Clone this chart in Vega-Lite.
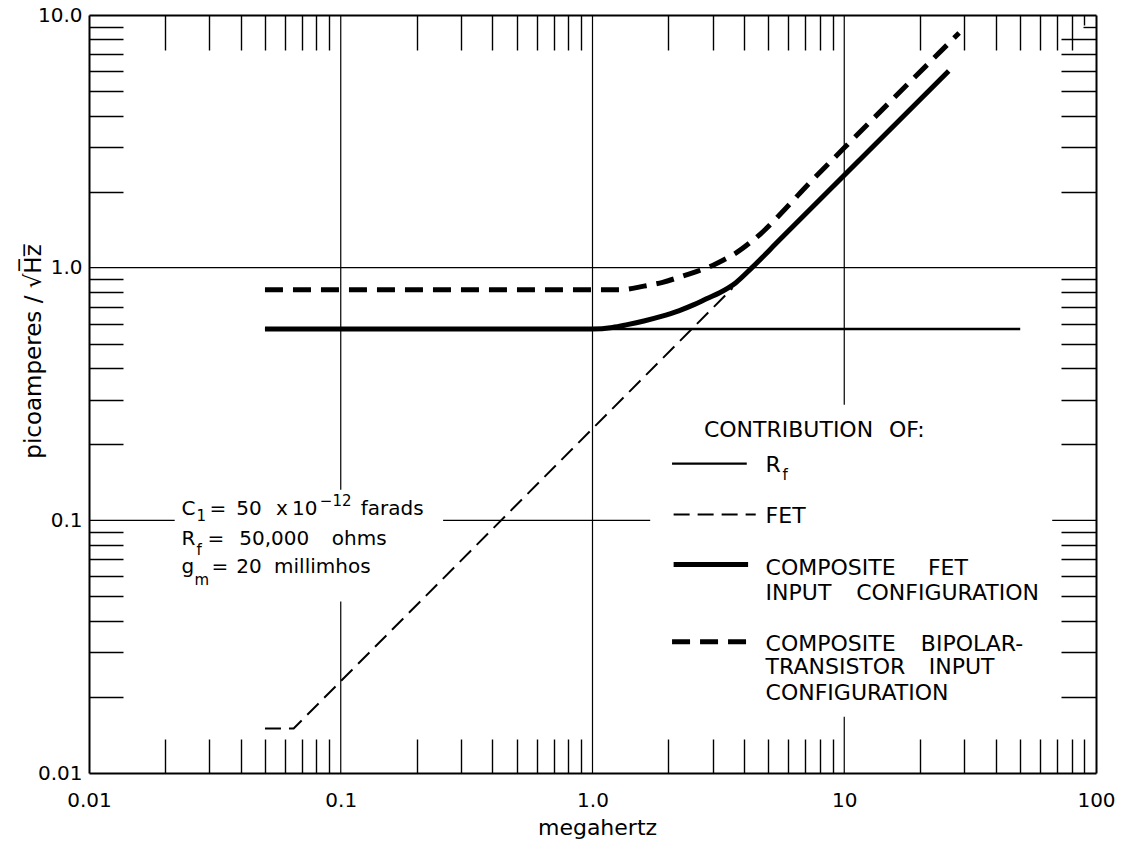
{
  "$schema": "https://vega.github.io/schema/vega-lite/v6.json",
  "width": 1007,
  "height": 758,
  "autosize": {"type": "none"},
  "padding": {"left": 89, "top": 15, "right": 36, "bottom": 68},
  "background": "white",
  "config": {
    "view": {"stroke": null},
    "font": "DejaVu Sans",
    "axis": {
      "grid": false,
      "labelColor": "black",
      "titleColor": "black",
      "domainColor": "black",
      "tickColor": "black",
      "labelFont": "DejaVu Sans",
      "titleFont": "DejaVu Sans",
      "titleFontWeight": "normal",
      "labelFlush": false,
      "labelOverlap": false,
      "labelBound": false
    }
  },
  "datasets": {
    "grid": [
      {"x1": 0.1, "x2": 0.1, "y1": 10, "y2": 0.132},
      {"x1": 0.1, "x2": 0.1, "y1": 0.0477, "y2": 0.01},
      {"x1": 1, "x2": 1, "y1": 10, "y2": 0.01},
      {"x1": 10, "x2": 10, "y1": 10, "y2": 0.287},
      {"x1": 10, "x2": 10, "y1": 0.0167, "y2": 0.01},
      {"x1": 0.01, "x2": 100, "y1": 1, "y2": 1},
      {"x1": 0.01, "x2": 0.0219, "y1": 0.1, "y2": 0.1},
      {"x1": 0.255, "x2": 1.695, "y1": 0.1, "y2": 0.1},
      {"x1": 67, "x2": 100, "y1": 0.1, "y2": 0.1}
    ],
    "curves": [
      {"series": "Rf", "part": "curve", "f": 0.05, "v": 0.572},
      {"series": "Rf", "part": "curve", "f": 50, "v": 0.572},
      {"series": "FET", "part": "curve", "f": 0.05, "v": 0.015},
      {"series": "FET", "part": "curve", "f": 0.065, "v": 0.015},
      {"series": "FET", "part": "curve", "f": 3.6, "v": 0.83},
      {"series": "CF", "part": "curve", "f": 0.05, "v": 0.572},
      {"series": "CF", "part": "curve", "f": 1.0, "v": 0.572},
      {"series": "CF", "part": "curve", "f": 1.2, "v": 0.58},
      {"series": "CF", "part": "curve", "f": 1.375, "v": 0.595},
      {"series": "CF", "part": "curve", "f": 1.6, "v": 0.615},
      {"series": "CF", "part": "curve", "f": 1.86, "v": 0.64},
      {"series": "CF", "part": "curve", "f": 2.2, "v": 0.675},
      {"series": "CF", "part": "curve", "f": 2.53, "v": 0.714},
      {"series": "CF", "part": "curve", "f": 2.85, "v": 0.755},
      {"series": "CF", "part": "curve", "f": 3.2, "v": 0.796},
      {"series": "CF", "part": "curve", "f": 3.7, "v": 0.87},
      {"series": "CF", "part": "curve", "f": 4.3, "v": 1.0},
      {"series": "CF", "part": "curve", "f": 5.5, "v": 1.28},
      {"series": "CF", "part": "curve", "f": 26, "v": 6.0},
      {"series": "CB", "part": "curve", "f": 0.05, "v": 0.818},
      {"series": "CB", "part": "curve", "f": 1.3, "v": 0.818},
      {"series": "CB", "part": "curve", "f": 1.6, "v": 0.845},
      {"series": "CB", "part": "curve", "f": 1.9, "v": 0.875},
      {"series": "CB", "part": "curve", "f": 2.2, "v": 0.915},
      {"series": "CB", "part": "curve", "f": 2.55, "v": 0.96},
      {"series": "CB", "part": "curve", "f": 2.93, "v": 1.01},
      {"series": "CB", "part": "curve", "f": 3.3, "v": 1.07},
      {"series": "CB", "part": "curve", "f": 3.65, "v": 1.13},
      {"series": "CB", "part": "curve", "f": 4.2, "v": 1.25},
      {"series": "CB", "part": "curve", "f": 4.8, "v": 1.4},
      {"series": "CB", "part": "curve", "f": 5.8, "v": 1.7},
      {"series": "CB", "part": "curve", "f": 7.3, "v": 2.17},
      {"series": "CB", "part": "curve", "f": 10, "v": 2.98},
      {"series": "CB", "part": "curve", "f": 28.6, "v": 8.49},
      {"series": "Rf", "part": "key", "f": 2.07, "v": 0.1676},
      {"series": "Rf", "part": "key", "f": 4.1, "v": 0.1676},
      {"series": "FET", "part": "key", "f": 2.1, "v": 0.1054},
      {"series": "FET", "part": "key", "f": 4.45, "v": 0.1054},
      {"series": "CF", "part": "key", "f": 2.1, "v": 0.0668},
      {"series": "CF", "part": "key", "f": 4.15, "v": 0.0668},
      {"series": "CB", "part": "key", "f": 2.07, "v": 0.0331},
      {"series": "CB", "part": "key", "f": 4.2, "v": 0.0331}
    ],
    "notes": [
      {"kind": "block", "x": 0.02331, "y": 0.1054, "text": "C"},
      {"kind": "block", "x": 0.03008, "y": 0.1054, "text": "="},
      {"kind": "block", "x": 0.03846, "y": 0.1054, "text": "50"},
      {"kind": "block", "x": 0.05535, "y": 0.1054, "text": "x"},
      {"kind": "block", "x": 0.064, "y": 0.1054, "text": "10"},
      {"kind": "block", "x": 0.12, "y": 0.1054, "text": "farads"},
      {"kind": "block", "x": 0.02331, "y": 0.0801, "text": "R"},
      {"kind": "block", "x": 0.02954, "y": 0.0801, "text": "="},
      {"kind": "block", "x": 0.03953, "y": 0.0801, "text": "50,000"},
      {"kind": "block", "x": 0.0921, "y": 0.0801, "text": "ohms"},
      {"kind": "block", "x": 0.02331, "y": 0.0621, "text": "g"},
      {"kind": "block", "x": 0.03063, "y": 0.0621, "text": "="},
      {"kind": "block", "x": 0.03846, "y": 0.0621, "text": "20"},
      {"kind": "block", "x": 0.05434, "y": 0.0621, "text": "millimhos"},
      {"kind": "small", "x": 0.02673, "y": 0.0997, "text": "1"},
      {"kind": "small", "x": 0.0826, "y": 0.1143, "text": "−12"},
      {"kind": "small", "x": 0.02673, "y": 0.0731, "text": "f"},
      {"kind": "small", "x": 0.02624, "y": 0.0556, "text": "m"},
      {"kind": "small", "x": 5.69, "y": 0.145, "text": "f"},
      {"kind": "key", "x": 2.77, "y": 0.2144, "text": "CONTRIBUTION"},
      {"kind": "key", "x": 15.06, "y": 0.2144, "text": "OF:"},
      {"kind": "key", "x": 4.87, "y": 0.156, "text": "R"},
      {"kind": "key", "x": 4.87, "y": 0.098, "text": "FET"},
      {"kind": "key", "x": 4.87, "y": 0.061, "text": "COMPOSITE"},
      {"kind": "key", "x": 21.5, "y": 0.061, "text": "FET"},
      {"kind": "key", "x": 4.87, "y": 0.0486, "text": "INPUT"},
      {"kind": "key", "x": 11.15, "y": 0.0486, "text": "CONFIGURATION"},
      {"kind": "key", "x": 4.87, "y": 0.0305, "text": "COMPOSITE"},
      {"kind": "key", "x": 20.15, "y": 0.0305, "text": "BIPOLAR-"},
      {"kind": "key", "x": 4.87, "y": 0.0247, "text": "TRANSISTOR"},
      {"kind": "key", "x": 21.67, "y": 0.0247, "text": "INPUT"},
      {"kind": "key", "x": 4.87, "y": 0.0195, "text": "CONFIGURATION"}
    ]
  },
  "resolve": {
    "scale": {"x": "shared", "y": "shared"},
    "axis": {"x": "independent", "y": "independent"}
  },
  "layer": [
    {
      "data": {"name": "grid"},
      "mark": {"type": "rule", "stroke": "black", "strokeWidth": 1.2},
      "encoding": {
        "x": {
          "field": "x1", "type": "quantitative",
          "scale": {"type": "log", "domain": [0.01, 100], "nice": false},
          "axis": {
            "orient": "bottom",
            "values": [0.01, 0.1, 1, 10, 100],
            "labelExpr": "datum.value < 0.05 ? '0.01' : datum.value < 0.5 ? '0.1' : datum.value < 5 ? '1.0' : datum.value < 50 ? '10' : '100'",
            "ticks": false,
            "domain": true,
            "domainWidth": 2,
            "labelFontSize": 20,
            "labelBaseline": "alphabetic",
            "labelPadding": 33,
            "title": "megahertz",
            "titleFontSize": 22,
            "titleBaseline": "alphabetic",
            "titleX": 508,
            "titleY": 61
          }
        },
        "x2": {"field": "x2"},
        "y": {
          "field": "y1", "type": "quantitative",
          "scale": {"type": "log", "domain": [0.01, 10], "nice": false},
          "axis": {
            "orient": "left",
            "values": [0.01, 0.1, 1, 10],
            "labelExpr": "datum.value < 0.05 ? '0.01' : datum.value < 0.5 ? '0.1' : datum.value < 5 ? '1.0' : '10.0'",
            "ticks": false,
            "domain": true,
            "domainWidth": 2,
            "labelFontSize": 20,
            "labelPadding": 7,
            "title": "picoamperes / √H̅z̅",
            "titleFontSize": 23,
            "titleAngle": 270,
            "titleBaseline": "alphabetic",
            "titleX": -49,
            "titleY": 336
          }
        },
        "y2": {"field": "y2"}
      }
    },
    {
      "data": {"name": "curves"},
      "transform": [{"filter": "datum.series === 'Rf'"}],
      "mark": {"type": "line", "stroke": "black", "strokeWidth": 2.4},
      "encoding": {
        "x": {
          "field": "f", "type": "quantitative",
          "scale": {"type": "log", "domain": [0.01, 100], "nice": false},
          "axis": {
            "orient": "bottom",
            "values": [0.02, 0.03, 0.04, 0.05, 0.06, 0.07, 0.08, 0.09, 0.2, 0.3, 0.4, 0.5, 0.6, 0.7, 0.8, 0.9, 2, 3, 4, 5, 6, 7, 8, 9, 20, 30, 40, 50, 60, 70, 80, 90],
            "labels": false,
            "domain": false,
            "tickSize": -34,
            "tickWidth": 1.4,
            "title": null
          }
        },
        "y": {
          "field": "v", "type": "quantitative",
          "scale": {"type": "log", "domain": [0.01, 10], "nice": false},
          "axis": {
            "orient": "left",
            "values": [0.02, 0.03, 0.04, 0.05, 0.06, 0.07, 0.08, 0.09, 0.2, 0.3, 0.4, 0.5, 0.6, 0.7, 0.8, 0.9, 2, 3, 4, 5, 6, 7, 8, 9],
            "labels": false,
            "domain": false,
            "tickSize": -34,
            "tickWidth": 1.4,
            "title": null
          }
        },
        "detail": {"field": "part"}
      }
    },
    {
      "data": {"name": "curves"},
      "transform": [{"filter": "datum.series === 'FET'"}],
      "mark": {"type": "line", "stroke": "black", "strokeWidth": 2, "strokeDash": [16, 8]},
      "encoding": {
        "x": {
          "field": "f", "type": "quantitative",
          "scale": {"type": "log", "domain": [0.01, 100], "nice": false},
          "axis": {
            "orient": "top",
            "values": [0.02, 0.03, 0.04, 0.05, 0.06, 0.07, 0.08, 0.09, 0.2, 0.3, 0.4, 0.5, 0.6, 0.7, 0.8, 0.9, 2, 3, 4, 5, 6, 7, 8, 9, 20, 30, 40, 50, 60, 70, 80, 90],
            "labels": false,
            "domain": true,
            "domainWidth": 2,
            "tickSize": {"condition": {"test": "datum.value > 85", "value": -10}, "value": -35},
            "tickWidth": 1.4,
            "title": null
          }
        },
        "y": {
          "field": "v", "type": "quantitative",
          "scale": {"type": "log", "domain": [0.01, 10], "nice": false},
          "axis": {
            "orient": "right",
            "values": [0.02, 0.03, 0.04, 0.05, 0.06, 0.07, 0.08, 0.09, 0.2, 0.3, 0.4, 0.5, 0.6, 0.7, 0.8, 0.9, 2, 3, 4, 5, 6, 7, 8, 9],
            "labels": false,
            "domain": true,
            "domainWidth": 2,
            "tickSize": {"condition": {"test": "datum.value > 8.5", "value": -13}, "value": -35},
            "tickWidth": 1.4,
            "title": null
          }
        },
        "detail": {"field": "part"}
      }
    },
    {
      "data": {"name": "curves"},
      "transform": [{"filter": "datum.series === 'CF'"}],
      "mark": {"type": "line", "stroke": "black", "strokeWidth": 5, "interpolate": "monotone"},
      "encoding": {
        "x": {"field": "f", "type": "quantitative", "scale": {"type": "log", "domain": [0.01, 100], "nice": false}, "axis": null},
        "y": {"field": "v", "type": "quantitative", "scale": {"type": "log", "domain": [0.01, 10], "nice": false}, "axis": null},
        "detail": {"field": "part"}
      }
    },
    {
      "data": {"name": "curves"},
      "transform": [{"filter": "datum.series === 'CB'"}],
      "mark": {"type": "line", "stroke": "black", "strokeWidth": 5, "strokeDash": [18, 10], "interpolate": "monotone"},
      "encoding": {
        "x": {"field": "f", "type": "quantitative", "scale": {"type": "log", "domain": [0.01, 100], "nice": false}, "axis": null},
        "y": {"field": "v", "type": "quantitative", "scale": {"type": "log", "domain": [0.01, 10], "nice": false}, "axis": null},
        "detail": {"field": "part"}
      }
    },
    {
      "data": {"name": "notes"},
      "transform": [{"filter": "datum.kind === 'block'"}],
      "mark": {"type": "text", "align": "left", "baseline": "alphabetic", "fontSize": 20, "fill": "black"},
      "encoding": {
        "x": {"field": "x", "type": "quantitative", "scale": {"type": "log", "domain": [0.01, 100], "nice": false}, "axis": null},
        "y": {"field": "y", "type": "quantitative", "scale": {"type": "log", "domain": [0.01, 10], "nice": false}, "axis": null},
        "text": {"field": "text"}
      }
    },
    {
      "data": {"name": "notes"},
      "transform": [{"filter": "datum.kind === 'small'"}],
      "mark": {"type": "text", "align": "left", "baseline": "alphabetic", "fontSize": 15, "fill": "black"},
      "encoding": {
        "x": {"field": "x", "type": "quantitative", "scale": {"type": "log", "domain": [0.01, 100], "nice": false}, "axis": null},
        "y": {"field": "y", "type": "quantitative", "scale": {"type": "log", "domain": [0.01, 10], "nice": false}, "axis": null},
        "text": {"field": "text"}
      }
    },
    {
      "data": {"name": "notes"},
      "transform": [{"filter": "datum.kind === 'key'"}],
      "mark": {"type": "text", "align": "left", "baseline": "alphabetic", "fontSize": 22, "fill": "black"},
      "encoding": {
        "x": {"field": "x", "type": "quantitative", "scale": {"type": "log", "domain": [0.01, 100], "nice": false}, "axis": null},
        "y": {"field": "y", "type": "quantitative", "scale": {"type": "log", "domain": [0.01, 10], "nice": false}, "axis": null},
        "text": {"field": "text"}
      }
    }
  ]
}
